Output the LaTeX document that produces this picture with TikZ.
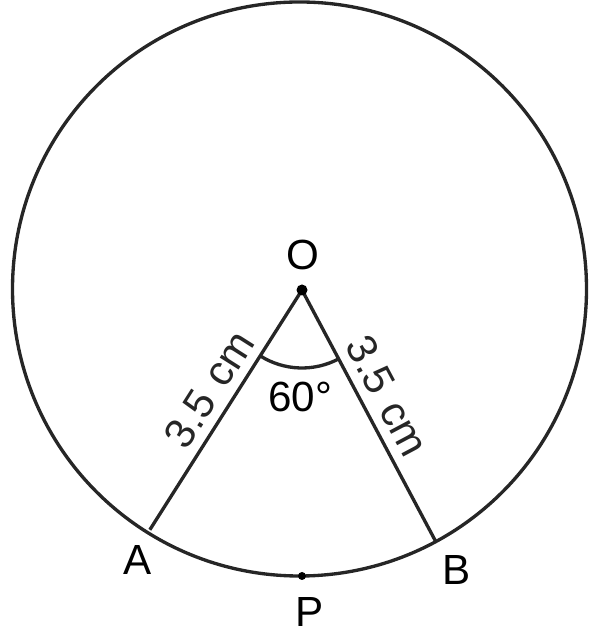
\documentclass[tikz,border=0pt]{standalone}
\usepackage{fontspec}
\setmainfont{Liberation Sans}
\usetikzlibrary{positioning}
\tikzset{
  rim/.style = {line width = 1.9pt, black!85},
  lbl/.style = {font = \fontsize{24}{28}\selectfont, inner sep = 1pt}
}
\begin{document}
\begin{tikzpicture}[x = 0.02cm, y = 0.02cm]
\useasboundingbox (0,0) rectangle (591,635);
\coordinate (C) at (299.5,346);
\coordinate (O) at (302,345);
\path (O) ++(237.6:284) coordinate (A);
\path (O) ++(298:284) coordinate (B);
\coordinate (P) at (302,59);
\draw [rim] (C) circle (287);
\draw [rim] (A) -- node [lbl, sloped, above = 4pt, pos = 0.53] {3.5\,\,cm} (O);
\draw [rim] (O) -- node [lbl, sloped, above = 4pt, pos = 0.47] {3.5\,\,cm} (B);
\draw [rim] (O) ++(237.6:78) arc (237.6:298:78);
\fill (O) circle (5.5);
\fill (P) circle (4);
\node [lbl] (o) at (303,380) {O};
\node [lbl] (a) at (138,75) {A};
\node [lbl] (b) at (457,65) {B};
\node [lbl] (p) at (310,23) {P};
\node [lbl] (ang) at (300,238) {60°};
\end{tikzpicture}
\end{document}
